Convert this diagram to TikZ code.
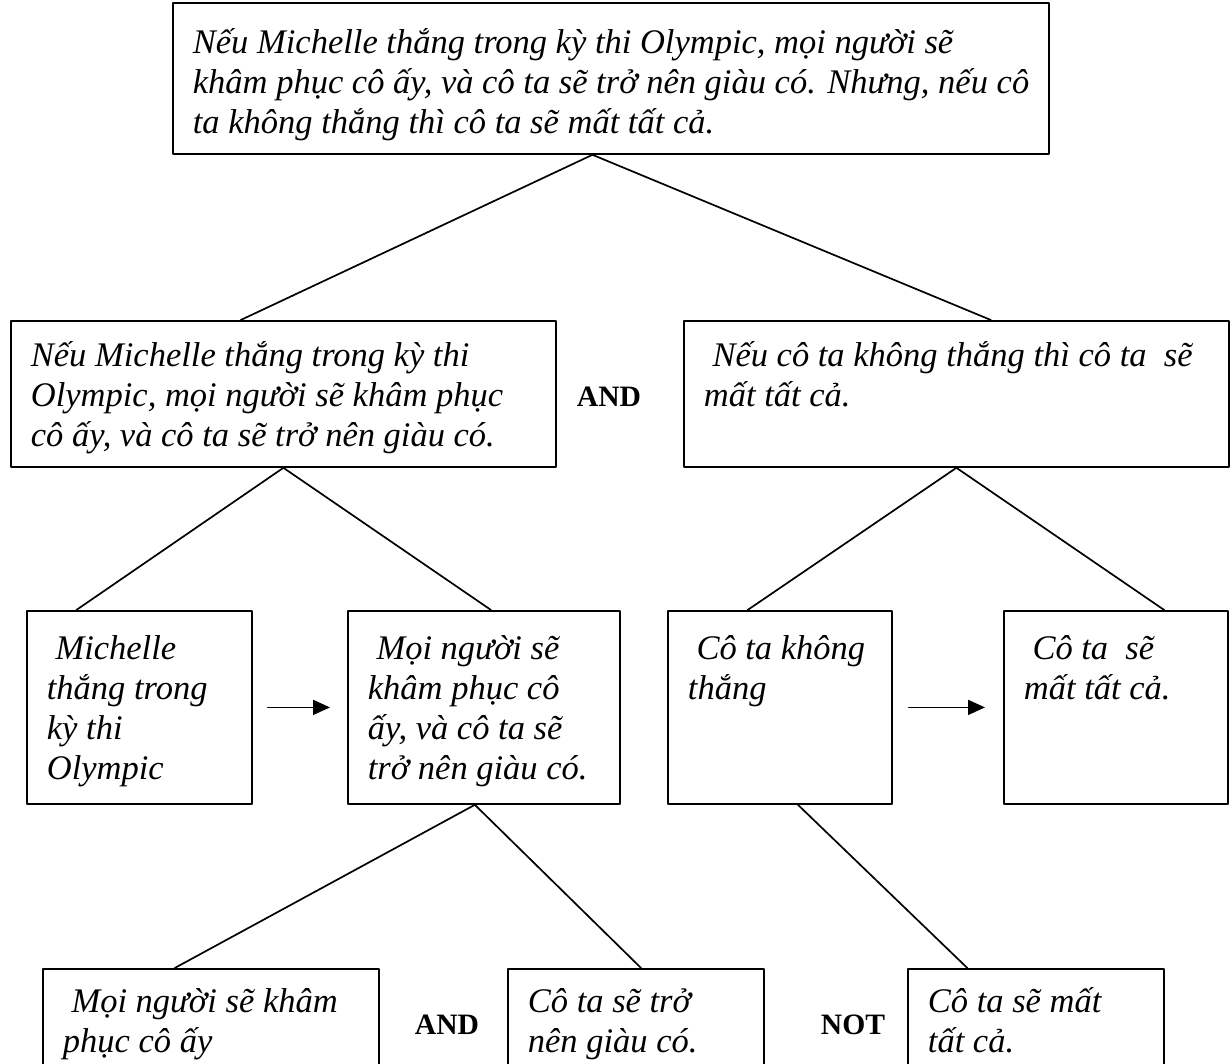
\documentclass[tikz,border=0pt]{standalone}
\usepackage{fontspec}
\setmainfont{Liberation Serif}
\usetikzlibrary{arrows.meta,calc}
% text block of a box: [first line height] width, height, lines
\newcommand{\boxtext}[4][34pt]{\parbox[t][#3][t]{#2}{\rule{0pt}{#1}\begin{tabular}[t]{@{}l@{}}#4\end{tabular}}}
\begin{document}
\begin{tikzpicture}[x=1pt,y=-1pt,line join=round,line cap=round]
	\tikzset{every node/.style={font=\fontsize{34.5}{39.7}\selectfont\itshape},
		tbox/.style={draw,line width=1.8pt,anchor=north west,inner xsep=20pt,inner ysep=10pt},
		lbl/.style={font=\fontsize{29.6}{34}\selectfont\bfseries,inner sep=0pt},
		link/.style={line width=1.7pt},
		imp/.style={line width=1.7pt,-{Triangle[length=17pt,width=15pt]}}}
	\useasboundingbox (0,0) rectangle (1231,1063);
	\clip (0,0) rectangle (1231,1063);
	% boxes
	\node[tbox] (top) at (172,2) {\boxtext[41pt]{836pt}{131pt}{Nếu Michelle thắng trong kỳ thi Olympic, mọi người sẽ\\khâm phục cô ấy, và cô ta sẽ trở nên giàu có. Nhưng, nếu cô\\ta không thắng thì cô ta sẽ mất tất cả.}};
	\node[tbox] (mleft) at (10,320) {\boxtext[36pt]{505pt}{126pt}{Nếu Michelle thắng trong kỳ thi\\Olympic, mọi người sẽ khâm phục\\cô ấy, và cô ta sẽ trở nên giàu có.}};
	\node[tbox] (mright) at (683,320) {\boxtext[36pt]{505pt}{126pt}{\ Nếu cô ta không thắng thì cô ta\ \ sẽ\\mất tất cả.}};
	\node[tbox] (a) at (26,610) {\boxtext[39pt]{185pt}{173pt}{\ Michelle\\thắng trong\\kỳ thi\\Olympic}};
	\node[tbox] (b) at (347,610) {\boxtext[39pt]{232pt}{173pt}{\ Mọi người sẽ\\khâm phục cô\\ấy, và cô ta sẽ\\trở nên giàu có.}};
	\node[tbox] (c) at (667,610) {\boxtext[39pt]{184pt}{173pt}{\ Cô ta không\\thắng}};
	\node[tbox] (d) at (1003,610) {\boxtext[39pt]{184pt}{173pt}{\ Cô ta\ \ sẽ\\mất tất cả.}};
	\node[tbox] (l) at (42,968) {\boxtext{296pt}{130pt}{\ Mọi người sẽ khâm\\phục cô ấy}};
	\node[tbox] (m) at (507,968) {\boxtext{216pt}{130pt}{Cô ta sẽ trở\\nên giàu có.}};
	\node[tbox] (r) at (907,968) {\boxtext{216pt}{130pt}{Cô ta sẽ mất\\tất cả.}};
	% connectives
	\node[lbl] (and1) at (609,397) {AND};
	\node[lbl] (and2) at (447,1025) {AND};
	\node[lbl] (not) at (853,1025) {NOT};
	% tree lines
	\draw[link] ($(top.south west)!0.479!(top.south east)$) -- ($(mleft.north west)!0.422!(mleft.north east)$);
	\draw[link] ($(top.south west)!0.479!(top.south east)$) -- ($(mright.north west)!0.563!(mright.north east)$);
	\draw[link] (mleft.south) -- ($(a.north west)!0.222!(a.north east)$);
	\draw[link] (mleft.south) -- ($(b.north west)!0.526!(b.north east)$);
	\draw[link] (mright.south) -- ($(c.north west)!0.357!(c.north east)$);
	\draw[link] (mright.south) -- ($(d.north west)!0.714!(d.north east)$);
	\draw[link] ($(b.south west)!0.467!(b.south east)$) -- ($(l.north west)!0.393!(l.north east)$);
	\draw[link] ($(b.south west)!0.467!(b.south east)$) -- ($(m.north west)!0.52!(m.north east)$);
	\draw[link] ($(c.south west)!0.58!(c.south east)$) -- ($(r.north west)!0.234!(r.north east)$);
	% arrows
	\draw[imp,shorten <=15pt,shorten >=17pt] (a) -- (b);
	\draw[imp,shorten <=16pt,shorten >=18pt] (c) -- (d);
\end{tikzpicture}
\end{document}
